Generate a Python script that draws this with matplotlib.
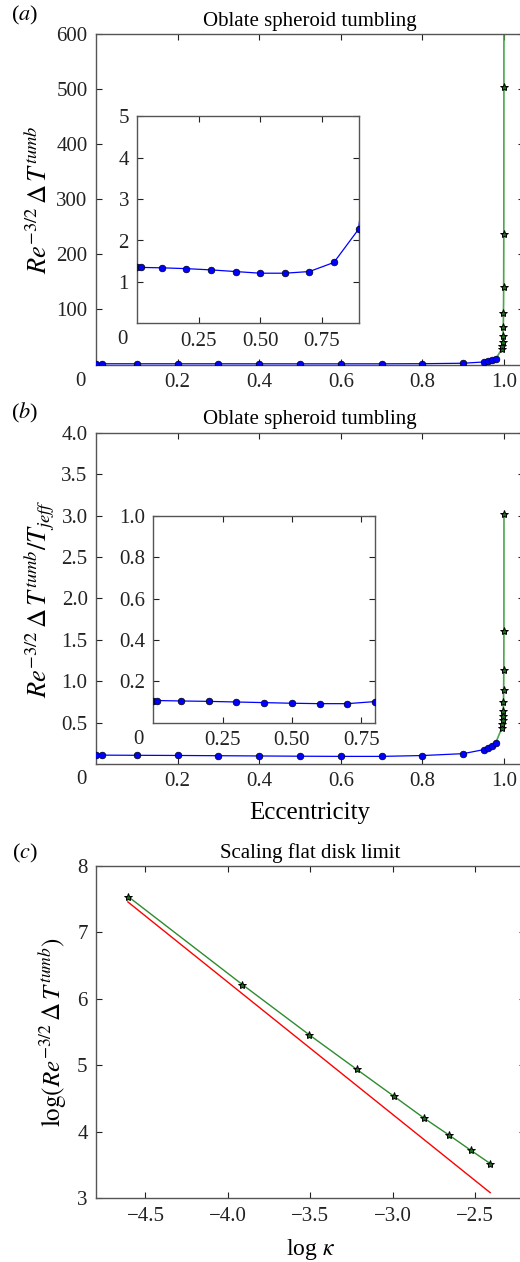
import matplotlib
matplotlib.use('Agg')
import matplotlib.pyplot as plt
import numpy as np

plt.rcParams['font.family'] = ['Liberation Serif', 'DejaVu Serif']
plt.rcParams['mathtext.fontset'] = 'stix'
plt.rcParams['axes.unicode_minus'] = True

W, H = 520, 1262

# eccentricity of the blue (finite aspect ratio) points
ecc_blue = [0.0, 0.015, 0.1, 0.2, 0.3, 0.4, 0.5, 0.6, 0.7, 0.8, 0.9, 0.95, 0.96, 0.97, 0.98]
# panel (a): Re^{-3/2} dT^tumb
tumb_blue = [1.35, 1.35, 1.34, 1.32, 1.29, 1.25, 1.21, 1.21, 1.25, 1.47, 2.27, 4.6, 5.8, 7.4, 10.0]
# panel (b): divided by T_jeff
ratio_blue = [0.107, 0.107, 0.105, 0.103, 0.100, 0.097, 0.094, 0.092, 0.092, 0.102, 0.125, 0.173, 0.193, 0.217, 0.258]

# near flat-disk points (green stars), aspect ratio kappa
kappa_star = [0.10, 0.09, 0.08, 0.07, 0.06, 0.05, 0.04, 0.03, 0.02, 0.01]
tumb_star = [28.9, 33.7, 41.0, 51.8, 68.0, 94.0, 140.4, 236.7, 503.6, 1900.0]
ratio_star = [0.44, 0.48, 0.53, 0.58, 0.64, 0.75, 0.89, 1.13, 1.60, 3.02]

# panel (c): log-log scaling
logk_c = [-4.605, -3.912, -3.507, -3.219, -2.996, -2.813, -2.659, -2.526, -2.408]
logt_c = [7.54, 6.215, 5.46, 4.94, 4.54, 4.21, 3.95, 3.72, 3.52]
logk_fit = [-4.607, -2.41]
logt_fit = [7.46, 3.085]

ecc_star = np.sqrt(1 - np.array(kappa_star) ** 2)
# green curve joins last blue point to the stars
ecc_green = np.concatenate([[ecc_blue[-1]], ecc_star])

BLUE = '#0000ff'
GREEN = '#4aa84a'
SPINE = '#555555'
TICK_FS = 15
TXT = '#222222'


def px_axes(fig, l, t, r, b):
    return fig.add_axes([l / W, 1 - b / H, (r - l) / W, (b - t) / H])


def style(ax):
    ax.tick_params(direction='in', top=True, right=True, length=4, width=0.8,
                   labelsize=TICK_FS, colors=TXT, pad=6)
    for s in ax.spines.values():
        s.set_color(SPINE)
        s.set_linewidth(1.0)


def blue_line(ax, x, y):
    ax.plot(x, y, '-', color=BLUE, lw=0.9, marker='o', ms=4.8,
            mfc=BLUE, mec='k', mew=0.5, zorder=3)


def green_line(ax, x, y):
    ax.plot(x, y, '-', color=GREEN, lw=1.2, zorder=2)
    ax.plot(x[1:], y[1:], ls='none', marker='*', ms=6, mfc='#1d6a1d',
            mec='k', mew=0.7, zorder=4)


fig = plt.figure(figsize=(W / 100, H / 100), dpi=100)

# ---------- panel (a)
ax = px_axes(fig, 96, 34, 524.4, 364.5)
style(ax)
green_line(ax, ecc_green, np.concatenate([[tumb_blue[-1]], tumb_star]))
blue_line(ax, ecc_blue, tumb_blue)
ax.set_xlim(0, 1.05)
ax.set_ylim(0, 600)
ax.set_xticks([0.2, 0.4, 0.6, 0.8, 1.0])
ax.set_xticklabels(['0.2', '0.4', '0.6', '0.8', '1.0'])
ax.set_yticks([100, 200, 300, 400, 500, 600])
ax.set_ylabel(r'$Re^{-3/2}\,\Delta\,T^{tumb}$', fontsize=19, labelpad=3)
ax.set_title('Oblate spheroid tumbling', fontsize=15, pad=6)
fig.text(80 / W, 1 - 381 / H, '0', fontsize=TICK_FS, ha='center', va='center', color=TXT)
fig.text(25 / W, 1 - 15 / H, r'($a$)', fontsize=16, ha='center', va='center')

ins = px_axes(fig, 137.3, 116.3, 358.5, 323.3)
style(ins)
blue_line(ins, ecc_blue, tumb_blue)
ins.set_xlim(0, 0.9)
ins.set_ylim(0, 5)
ins.set_xticks([0.25, 0.5, 0.75])
ins.set_xticklabels(['0.25', '0.50', '0.75'])
ins.set_yticks([1, 2, 3, 4, 5])
fig.text(122.7 / W, 1 - 340 / H, '0', fontsize=TICK_FS, ha='center', va='center', color=TXT)

# ---------- panel (b)
ax = px_axes(fig, 96, 432.7, 524.4, 764)
style(ax)
green_line(ax, ecc_green, np.concatenate([[ratio_blue[-1]], ratio_star]))
blue_line(ax, ecc_blue, ratio_blue)
ax.set_xlim(0, 1.05)
ax.set_ylim(0, 4)
ax.set_xticks([0.2, 0.4, 0.6, 0.8, 1.0])
ax.set_xticklabels(['0.2', '0.4', '0.6', '0.8', '1.0'])
ax.set_yticks([0.5, 1.0, 1.5, 2.0, 2.5, 3.0, 3.5, 4.0])
ax.set_ylabel(r'$Re^{-3/2}\,\Delta\,T^{tumb}/T_{jeff}$', fontsize=19, labelpad=3)
ax.set_xlabel('Eccentricity', fontsize=18, labelpad=8)
ax.set_title('Oblate spheroid tumbling', fontsize=15, pad=6)
fig.text(81 / W, 1 - 780 / H, '0', fontsize=TICK_FS, ha='center', va='center', color=TXT)
fig.text(25 / W, 1 - 413 / H, r'($b$)', fontsize=16, ha='center', va='center')

ins = px_axes(fig, 153.3, 515.7, 375, 722.7)
style(ins)
blue_line(ins, ecc_blue, ratio_blue)
ins.set_xlim(0, 0.8)
ins.set_ylim(0, 1.0)
ins.set_xticks([0.25, 0.5, 0.75])
ins.set_xticklabels(['0.25', '0.50', '0.75'])
ins.set_yticks([0.2, 0.4, 0.6, 0.8, 1.0])
fig.text(138 / W, 1 - 739.3 / H, '0', fontsize=TICK_FS, ha='center', va='center', color=TXT)

# ---------- panel (c)
ax = px_axes(fig, 96, 866, 524.8, 1198.3)
style(ax)
ax.plot(logk_fit, logt_fit, '-', color='red', lw=1.0)
ax.plot(logk_c, logt_c, '-', color='#2e8b2e', lw=1.0)
ax.plot(logk_c, logt_c, ls='none', marker='*', ms=6,
        mfc='#1d6a1d', mec='k', mew=0.7)
ax.set_xlim(-4.8, -2.2)
ax.set_ylim(3, 8)
ax.set_xticks([-4.5, -4.0, -3.5, -3.0, -2.5])
ax.set_xticklabels(['\u22124.5', '\u22124.0', '\u22123.5', '\u22123.0', '\u22122.5'])
ax.set_yticks([3, 4, 5, 6, 7, 8])
ax.set_xlabel(r'log $\kappa$', fontsize=17, labelpad=8)
ax.set_ylabel(r'$\mathrm{log}(Re^{-3/2}\,\Delta\,T^{tumb})$', fontsize=18, labelpad=6)
ax.set_title('Scaling flat disk limit', fontsize=15, pad=6)
fig.text(25 / W, 1 - 853 / H, r'($c$)', fontsize=16, ha='center', va='center')

fig.savefig('out.png', dpi=100)
